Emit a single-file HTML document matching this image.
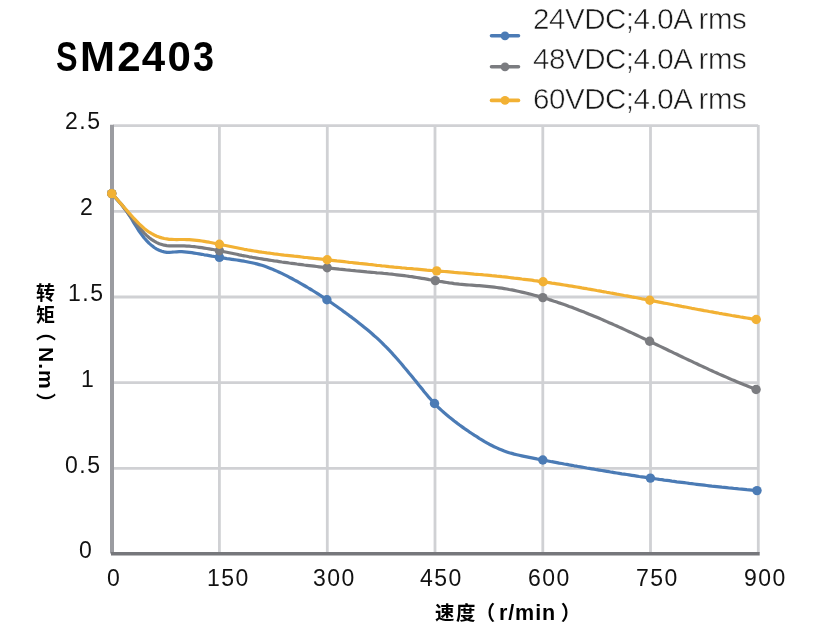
<!DOCTYPE html>
<html><head><meta charset="utf-8"><style>
html,body{margin:0;padding:0;background:#fff;}
body{width:831px;height:640px;position:relative;overflow:hidden;font-family:"Liberation Sans","Noto Sans CJK SC",sans-serif;}
.t{position:absolute;white-space:nowrap;line-height:1;color:#111;will-change:transform;}
.tt{top:36px;font-size:42px;font-weight:bold;font-family:"Liberation Sans",sans-serif;color:#000;letter-spacing:0.6px;}
.lg{font-size:29.5px;color:#1a1a1a;letter-spacing:-0.45px;-webkit-text-stroke:0.55px #fff;paint-order:normal;}
.yl{font-size:23px;letter-spacing:1.5px;}
.xl{font-size:23px;letter-spacing:1.5px;}
.cj{font-size:20px;font-weight:bold;font-family:"Liberation Sans","Noto Sans CJK SC",sans-serif;color:#000;}
.vt{writing-mode:vertical-rl;font-size:20px;font-weight:bold;font-family:"Liberation Sans",sans-serif;color:#000;}
.lt{font-size:20px;font-weight:bold;font-family:"Liberation Sans",sans-serif;color:#000;}
svg{position:absolute;left:0;top:0;}
</style></head><body>
<svg width="831" height="640" viewBox="0 0 831 640">
<g stroke="#d0d1d4" stroke-width="2.8" fill="none"><line x1="113" y1="125.6" x2="758.2" y2="125.6"/><line x1="113" y1="211.3" x2="758.2" y2="211.3"/><line x1="113" y1="297.0" x2="758.2" y2="297.0"/><line x1="113" y1="382.6" x2="758.2" y2="382.6"/><line x1="113" y1="468.3" x2="758.2" y2="468.3"/><line x1="219.4" y1="125.1" x2="219.4" y2="553"/><line x1="327.3" y1="125.1" x2="327.3" y2="553"/><line x1="435.0" y1="125.1" x2="435.0" y2="553"/><line x1="542.8" y1="125.1" x2="542.8" y2="553"/><line x1="650.5" y1="125.1" x2="650.5" y2="553"/><line x1="758.3" y1="125.1" x2="758.3" y2="553"/></g>
<line x1="112" y1="124.8" x2="112" y2="553.5" stroke="#9b9ca1" stroke-width="4"/>
<line x1="111" y1="553.8" x2="759.7" y2="553.8" stroke="#76777b" stroke-width="3.6"/>
<g fill="none" stroke-width="3.2" stroke-linejoin="round" stroke-linecap="round">
<path d="M111.8,193.6 L114.2,196.7 L116.8,199.4 L119.2,202.0 L121.8,204.7 L124.2,207.8 L126.8,211.3 L129.2,215.1 L131.8,219.2 L134.2,223.4 L136.8,227.5 L139.2,231.3 L141.8,234.8 L144.2,238.0 L146.8,240.8 L149.2,243.4 L151.8,245.6 L154.2,247.5 L156.8,249.1 L159.2,250.3 L161.8,251.3 L164.2,251.9 L166.8,252.3 L169.2,252.3 L171.8,252.2 L174.2,252.0 L176.8,251.8 L179.2,251.7 L181.8,251.7 L184.2,251.9 L186.8,252.1 L189.2,252.4 L191.8,252.7 L194.2,253.1 L196.8,253.5 L199.2,253.9 L201.8,254.3 L204.2,254.8 L206.8,255.2 L209.2,255.6 L211.8,256.1 L214.2,256.5 L216.8,256.9 L219.2,257.4 L221.8,257.8 L224.2,258.2 L226.8,258.6 L229.2,258.9 L231.8,259.3 L234.2,259.7 L236.8,260.0 L239.2,260.4 L241.8,260.8 L244.2,261.2 L246.8,261.7 L249.2,262.2 L251.8,262.7 L254.2,263.3 L256.8,263.9 L259.2,264.6 L261.8,265.3 L264.2,266.1 L266.8,267.0 L269.2,267.9 L271.8,268.9 L274.2,270.0 L276.8,271.1 L279.2,272.2 L281.8,273.4 L284.2,274.6 L286.8,275.9 L289.2,277.2 L291.8,278.5 L294.2,279.9 L296.8,281.2 L299.2,282.6 L301.8,284.1 L304.2,285.5 L306.8,287.0 L309.2,288.5 L311.8,290.0 L314.2,291.5 L316.8,293.1 L319.2,294.7 L321.8,296.3 L324.2,297.9 L326.8,299.6 L329.2,301.3 L331.8,303.0 L334.2,304.7 L336.8,306.5 L339.2,308.2 L341.8,310.0 L344.2,311.9 L346.8,313.7 L349.2,315.6 L351.8,317.4 L354.2,319.3 L356.8,321.3 L359.2,323.2 L361.8,325.2 L364.2,327.2 L366.8,329.3 L369.2,331.3 L371.8,333.5 L374.2,335.7 L376.8,337.9 L379.2,340.2 L381.8,342.6 L384.2,345.1 L386.8,347.6 L389.2,350.2 L391.8,352.9 L394.2,355.7 L396.8,358.5 L399.2,361.3 L401.8,364.2 L404.2,367.2 L406.8,370.2 L409.2,373.2 L411.8,376.3 L414.2,379.3 L416.8,382.4 L419.2,385.5 L421.8,388.6 L424.2,391.7 L426.8,394.7 L429.2,397.7 L431.8,400.5 L434.2,403.2 L436.8,405.8 L439.2,408.3 L441.8,410.6 L444.2,412.8 L446.8,415.0 L449.2,417.0 L451.8,419.0 L454.2,421.0 L456.8,422.9 L459.2,424.8 L461.8,426.6 L464.2,428.4 L466.8,430.1 L469.2,431.8 L471.8,433.5 L474.2,435.1 L476.8,436.7 L479.2,438.3 L481.8,439.8 L484.2,441.3 L486.8,442.8 L489.2,444.2 L491.8,445.5 L494.2,446.7 L496.8,447.9 L499.2,449.0 L501.8,450.0 L504.2,451.0 L506.8,451.9 L509.2,452.7 L511.8,453.4 L514.2,454.1 L516.8,454.7 L519.2,455.3 L521.8,455.9 L524.2,456.4 L526.8,456.9 L529.2,457.4 L531.8,457.9 L534.2,458.4 L536.8,458.9 L539.2,459.3 L541.8,459.8 L544.2,460.3 L546.8,460.7 L549.2,461.2 L551.8,461.7 L554.2,462.1 L556.8,462.6 L559.2,463.1 L561.8,463.5 L564.2,464.0 L566.8,464.4 L569.2,464.9 L571.8,465.3 L574.2,465.8 L576.8,466.2 L579.2,466.7 L581.8,467.1 L584.2,467.5 L586.8,468.0 L589.2,468.4 L591.8,468.8 L594.2,469.2 L596.8,469.7 L599.2,470.1 L601.8,470.5 L604.2,470.9 L606.8,471.3 L609.2,471.7 L611.8,472.2 L614.2,472.6 L616.8,473.0 L619.2,473.4 L621.8,473.8 L624.2,474.1 L626.8,474.5 L629.2,474.9 L631.8,475.3 L634.2,475.7 L636.8,476.1 L639.2,476.5 L641.8,476.8 L644.2,477.2 L646.8,477.6 L649.2,477.9 L651.8,478.3 L654.2,478.7 L656.8,479.0 L659.2,479.4 L661.8,479.7 L664.2,480.1 L666.8,480.4 L669.2,480.7 L671.8,481.1 L674.2,481.4 L676.8,481.8 L679.2,482.1 L681.8,482.4 L684.2,482.7 L686.8,483.0 L689.2,483.4 L691.8,483.7 L694.2,484.0 L696.8,484.3 L699.2,484.6 L701.8,484.9 L704.2,485.2 L706.8,485.5 L709.2,485.8 L711.8,486.1 L714.2,486.3 L716.8,486.6 L719.2,486.9 L721.8,487.2 L724.2,487.4 L726.8,487.7 L729.2,488.0 L731.8,488.2 L734.2,488.5 L736.8,488.7 L739.2,489.0 L741.8,489.2 L744.2,489.4 L746.8,489.7 L749.2,489.9 L751.8,490.1 L754.2,490.4 L756.8,490.6 L757.0,490.6" stroke="#4b7bb5"/>
<circle cx="111.75" cy="193.60" r="4.7" fill="#4b7bb5"/><circle cx="219.40" cy="257.40" r="4.7" fill="#4b7bb5"/><circle cx="326.90" cy="299.70" r="4.7" fill="#4b7bb5"/><circle cx="434.50" cy="403.50" r="4.7" fill="#4b7bb5"/><circle cx="542.80" cy="460.00" r="4.7" fill="#4b7bb5"/><circle cx="650.40" cy="478.10" r="4.7" fill="#4b7bb5"/><circle cx="757.00" cy="490.60" r="4.7" fill="#4b7bb5"/>
<path d="M111.8,193.6 L114.2,196.1 L116.8,198.9 L119.2,201.9 L121.8,205.0 L124.2,208.2 L126.8,211.5 L129.2,214.8 L131.8,218.1 L134.2,221.3 L136.8,224.5 L139.2,227.5 L141.8,230.4 L144.2,233.1 L146.8,235.6 L149.2,237.7 L151.8,239.6 L154.2,241.2 L156.8,242.6 L159.2,243.7 L161.8,244.5 L164.2,245.2 L166.8,245.6 L169.2,245.8 L171.8,245.9 L174.2,245.8 L176.8,245.8 L179.2,245.8 L181.8,245.8 L184.2,245.9 L186.8,246.1 L189.2,246.2 L191.8,246.5 L194.2,246.7 L196.8,247.0 L199.2,247.3 L201.8,247.7 L204.2,248.1 L206.8,248.5 L209.2,248.9 L211.8,249.3 L214.2,249.8 L216.8,250.3 L219.2,250.8 L221.8,251.3 L224.2,251.8 L226.8,252.3 L229.2,252.8 L231.8,253.3 L234.2,253.8 L236.8,254.3 L239.2,254.9 L241.8,255.4 L244.2,255.8 L246.8,256.3 L249.2,256.8 L251.8,257.2 L254.2,257.7 L256.8,258.1 L259.2,258.5 L261.8,258.9 L264.2,259.3 L266.8,259.7 L269.2,260.1 L271.8,260.5 L274.2,260.9 L276.8,261.2 L279.2,261.6 L281.8,262.0 L284.2,262.3 L286.8,262.6 L289.2,263.0 L291.8,263.3 L294.2,263.6 L296.8,264.0 L299.2,264.3 L301.8,264.6 L304.2,265.0 L306.8,265.3 L309.2,265.6 L311.8,265.9 L314.2,266.2 L316.8,266.5 L319.2,266.8 L321.8,267.1 L324.2,267.4 L326.8,267.7 L329.2,268.0 L331.8,268.3 L334.2,268.6 L336.8,268.9 L339.2,269.2 L341.8,269.4 L344.2,269.7 L346.8,270.0 L349.2,270.2 L351.8,270.5 L354.2,270.7 L356.8,271.0 L359.2,271.2 L361.8,271.4 L364.2,271.6 L366.8,271.9 L369.2,272.1 L371.8,272.3 L374.2,272.5 L376.8,272.8 L379.2,273.0 L381.8,273.2 L384.2,273.5 L386.8,273.7 L389.2,274.0 L391.8,274.2 L394.2,274.5 L396.8,274.8 L399.2,275.1 L401.8,275.4 L404.2,275.7 L406.8,276.0 L409.2,276.4 L411.8,276.7 L414.2,277.1 L416.8,277.5 L419.2,277.9 L421.8,278.3 L424.2,278.7 L426.8,279.1 L429.2,279.6 L431.8,280.0 L434.2,280.4 L436.8,280.8 L439.2,281.3 L441.8,281.7 L444.2,282.1 L446.8,282.5 L449.2,282.9 L451.8,283.2 L454.2,283.6 L456.8,283.9 L459.2,284.2 L461.8,284.4 L464.2,284.6 L466.8,284.8 L469.2,285.0 L471.8,285.2 L474.2,285.4 L476.8,285.6 L479.2,285.7 L481.8,285.9 L484.2,286.1 L486.8,286.3 L489.2,286.6 L491.8,286.9 L494.2,287.2 L496.8,287.5 L499.2,287.8 L501.8,288.2 L504.2,288.6 L506.8,289.0 L509.2,289.5 L511.8,289.9 L514.2,290.4 L516.8,291.0 L519.2,291.5 L521.8,292.1 L524.2,292.6 L526.8,293.2 L529.2,293.9 L531.8,294.5 L534.2,295.2 L536.8,295.9 L539.2,296.6 L541.8,297.3 L544.2,298.0 L546.8,298.8 L549.2,299.6 L551.8,300.4 L554.2,301.2 L556.8,302.0 L559.2,302.9 L561.8,303.7 L564.2,304.6 L566.8,305.5 L569.2,306.4 L571.8,307.3 L574.2,308.3 L576.8,309.2 L579.2,310.2 L581.8,311.2 L584.2,312.1 L586.8,313.2 L589.2,314.2 L591.8,315.2 L594.2,316.2 L596.8,317.3 L599.2,318.3 L601.8,319.4 L604.2,320.5 L606.8,321.6 L609.2,322.7 L611.8,323.8 L614.2,324.9 L616.8,326.0 L619.2,327.1 L621.8,328.3 L624.2,329.4 L626.8,330.6 L629.2,331.7 L631.8,332.9 L634.2,334.0 L636.8,335.2 L639.2,336.4 L641.8,337.6 L644.2,338.8 L646.8,339.9 L649.2,341.1 L651.8,342.3 L654.2,343.5 L656.8,344.7 L659.2,345.9 L661.8,347.1 L664.2,348.3 L666.8,349.5 L669.2,350.7 L671.8,351.9 L674.2,353.1 L676.8,354.3 L679.2,355.5 L681.8,356.7 L684.2,357.9 L686.8,359.1 L689.2,360.3 L691.8,361.4 L694.2,362.6 L696.8,363.8 L699.2,365.0 L701.8,366.1 L704.2,367.3 L706.8,368.4 L709.2,369.6 L711.8,370.7 L714.2,371.9 L716.8,373.0 L719.2,374.1 L721.8,375.2 L724.2,376.3 L726.8,377.4 L729.2,378.5 L731.8,379.6 L734.2,380.6 L736.8,381.7 L739.2,382.7 L741.8,383.8 L744.2,384.8 L746.8,385.8 L749.2,386.8 L751.8,387.8 L754.2,388.8 L756.1,389.5" stroke="#7b7c80"/>
<circle cx="111.75" cy="193.60" r="4.7" fill="#7b7c80"/><circle cx="219.40" cy="250.80" r="4.7" fill="#7b7c80"/><circle cx="327.20" cy="267.80" r="4.7" fill="#7b7c80"/><circle cx="435.30" cy="280.60" r="4.7" fill="#7b7c80"/><circle cx="542.80" cy="297.60" r="4.7" fill="#7b7c80"/><circle cx="649.60" cy="341.30" r="4.7" fill="#7b7c80"/><circle cx="756.10" cy="389.50" r="4.7" fill="#7b7c80"/>
<path d="M111.8,193.6 L114.2,196.2 L116.8,199.0 L119.2,201.8 L121.8,204.6 L124.2,207.5 L126.8,210.4 L129.2,213.2 L131.8,216.0 L134.2,218.7 L136.8,221.4 L139.2,223.9 L141.8,226.2 L144.2,228.4 L146.8,230.4 L149.2,232.2 L151.8,233.7 L154.2,235.0 L156.8,236.2 L159.2,237.1 L161.8,237.9 L164.2,238.5 L166.8,238.9 L169.2,239.3 L171.8,239.4 L174.2,239.5 L176.8,239.6 L179.2,239.5 L181.8,239.5 L184.2,239.5 L186.8,239.6 L189.2,239.7 L191.8,239.9 L194.2,240.1 L196.8,240.3 L199.2,240.6 L201.8,241.0 L204.2,241.4 L206.8,241.8 L209.2,242.2 L211.8,242.7 L214.2,243.2 L216.8,243.7 L219.2,244.2 L221.8,244.7 L224.2,245.2 L226.8,245.7 L229.2,246.2 L231.8,246.8 L234.2,247.3 L236.8,247.8 L239.2,248.3 L241.8,248.8 L244.2,249.3 L246.8,249.7 L249.2,250.2 L251.8,250.6 L254.2,251.0 L256.8,251.4 L259.2,251.8 L261.8,252.2 L264.2,252.5 L266.8,252.9 L269.2,253.2 L271.8,253.5 L274.2,253.9 L276.8,254.2 L279.2,254.5 L281.8,254.8 L284.2,255.1 L286.8,255.3 L289.2,255.6 L291.8,255.9 L294.2,256.2 L296.8,256.4 L299.2,256.7 L301.8,257.0 L304.2,257.3 L306.8,257.5 L309.2,257.8 L311.8,258.1 L314.2,258.4 L316.8,258.6 L319.2,258.9 L321.8,259.2 L324.2,259.5 L326.8,259.8 L329.2,260.0 L331.8,260.3 L334.2,260.6 L336.8,260.9 L339.2,261.1 L341.8,261.4 L344.2,261.7 L346.8,262.0 L349.2,262.3 L351.8,262.5 L354.2,262.8 L356.8,263.1 L359.2,263.4 L361.8,263.6 L364.2,263.9 L366.8,264.2 L369.2,264.5 L371.8,264.7 L374.2,265.0 L376.8,265.3 L379.2,265.5 L381.8,265.8 L384.2,266.0 L386.8,266.3 L389.2,266.6 L391.8,266.8 L394.2,267.1 L396.8,267.3 L399.2,267.5 L401.8,267.8 L404.2,268.0 L406.8,268.3 L409.2,268.5 L411.8,268.7 L414.2,269.0 L416.8,269.2 L419.2,269.4 L421.8,269.6 L424.2,269.8 L426.8,270.1 L429.2,270.3 L431.8,270.5 L434.2,270.7 L436.8,270.9 L439.2,271.1 L441.8,271.3 L444.2,271.5 L446.8,271.7 L449.2,271.9 L451.8,272.1 L454.2,272.4 L456.8,272.6 L459.2,272.8 L461.8,273.0 L464.2,273.2 L466.8,273.4 L469.2,273.6 L471.8,273.8 L474.2,274.1 L476.8,274.3 L479.2,274.5 L481.8,274.7 L484.2,275.0 L486.8,275.2 L489.2,275.4 L491.8,275.7 L494.2,275.9 L496.8,276.2 L499.2,276.4 L501.8,276.7 L504.2,276.9 L506.8,277.2 L509.2,277.5 L511.8,277.8 L514.2,278.1 L516.8,278.3 L519.2,278.6 L521.8,279.0 L524.2,279.3 L526.8,279.6 L529.2,279.9 L531.8,280.2 L534.2,280.6 L536.8,280.9 L539.2,281.3 L541.8,281.6 L544.2,282.0 L546.8,282.3 L549.2,282.7 L551.8,283.1 L554.2,283.4 L556.8,283.8 L559.2,284.2 L561.8,284.6 L564.2,285.0 L566.8,285.4 L569.2,285.8 L571.8,286.2 L574.2,286.6 L576.8,287.0 L579.2,287.4 L581.8,287.9 L584.2,288.3 L586.8,288.7 L589.2,289.2 L591.8,289.6 L594.2,290.0 L596.8,290.5 L599.2,290.9 L601.8,291.4 L604.2,291.8 L606.8,292.3 L609.2,292.7 L611.8,293.2 L614.2,293.6 L616.8,294.1 L619.2,294.5 L621.8,295.0 L624.2,295.5 L626.8,295.9 L629.2,296.4 L631.8,296.9 L634.2,297.3 L636.8,297.8 L639.2,298.3 L641.8,298.8 L644.2,299.2 L646.8,299.7 L649.2,300.2 L651.8,300.7 L654.2,301.1 L656.8,301.6 L659.2,302.1 L661.8,302.6 L664.2,303.1 L666.8,303.5 L669.2,304.0 L671.8,304.5 L674.2,305.0 L676.8,305.4 L679.2,305.9 L681.8,306.4 L684.2,306.8 L686.8,307.3 L689.2,307.8 L691.8,308.3 L694.2,308.7 L696.8,309.2 L699.2,309.7 L701.8,310.1 L704.2,310.6 L706.8,311.0 L709.2,311.5 L711.8,311.9 L714.2,312.4 L716.8,312.8 L719.2,313.3 L721.8,313.7 L724.2,314.2 L726.8,314.6 L729.2,315.0 L731.8,315.5 L734.2,315.9 L736.8,316.3 L739.2,316.7 L741.8,317.2 L744.2,317.6 L746.8,318.0 L749.2,318.4 L751.8,318.8 L754.2,319.2 L756.2,319.5" stroke="#f2b134"/>
<circle cx="111.75" cy="193.60" r="4.7" fill="#f2b134"/><circle cx="219.40" cy="244.20" r="4.7" fill="#f2b134"/><circle cx="327.20" cy="259.80" r="4.7" fill="#f2b134"/><circle cx="436.70" cy="270.90" r="4.7" fill="#f2b134"/><circle cx="543.10" cy="281.80" r="4.7" fill="#f2b134"/><circle cx="649.80" cy="300.30" r="4.7" fill="#f2b134"/><circle cx="756.20" cy="319.50" r="4.7" fill="#f2b134"/>
</g>
<g stroke-width="3.6" stroke-linecap="round">
<line x1="491.5" y1="35.8" x2="518.5" y2="35.8" stroke="#4b7bb5"/><circle cx="505" cy="35.8" r="4.4" fill="#4b7bb5"/>
<line x1="491.5" y1="66.8" x2="518.5" y2="66.8" stroke="#7b7c80"/><circle cx="505" cy="66.8" r="4.4" fill="#7b7c80"/>
<line x1="491.5" y1="100.4" x2="518.5" y2="100.4" stroke="#f2b134"/><circle cx="505" cy="100.4" r="4.4" fill="#f2b134"/>
</g>
</svg>
<div class="t tt" style="left:56px;"><span style="display:inline-block;width:24px;transform:scaleX(0.77);transform-origin:0 0;">S</span><span style="display:inline-block;width:37.3px;">M</span><span style="display:inline-block;width:24.4px;">2</span><span style="display:inline-block;width:25.8px;">4</span><span style="display:inline-block;width:25.7px;">0</span><span style="display:inline-block;transform:scaleX(0.9);transform-origin:0 0;">3</span></div>
<div class="t lg" style="left:532.8px;top:4px;">24VDC;4.0A rms</div>
<div class="t lg" style="left:532.8px;top:44px;">48VDC;4.0A rms</div>
<div class="t lg" style="left:532.8px;top:84px;">60VDC;4.0A rms</div>
<div class="t yl" style="left:65px;top:110px;">2.5</div>
<div class="t yl" style="left:80px;top:195.7px;">2</div>
<div class="t yl" style="left:68.3px;top:282px;">1.5</div>
<div class="t yl" style="left:80.5px;top:367.5px;">1</div>
<div class="t yl" style="left:65px;top:453.5px;">0.5</div>
<div class="t yl" style="left:79px;top:539px;">0</div>
<div class="t xl" style="left:107px;top:567px;">0</div>
<div class="t xl" style="left:207px;top:567px;">150</div>
<div class="t xl" style="left:313px;top:567px;">300</div>
<div class="t xl" style="left:420px;top:567px;">450</div>
<div class="t xl" style="left:528px;top:567px;">600</div>
<div class="t xl" style="left:636px;top:567px;">750</div>
<div class="t xl" style="left:744px;top:567px;">900</div>
<div class="t vt" style="left:37px;top:282.9px;"><span class="cj" style="display:inline-block;height:22px;font-size:19px;position:relative;left:-4px;">转</span><span class="cj" style="display:inline-block;height:16.4px;font-size:19px;position:relative;left:-4px;">矩</span><span class="cj" style="display:inline-block;height:25.9px;position:relative;left:-2.5px;">（</span><span style="display:inline-block;height:45.9px;font-size:21px;letter-spacing:1px;position:relative;left:-1px;">N.m</span><span class="cj" style="position:relative;left:-2.5px;">）</span></div>
<div class="t" style="left:435.3px;top:602.6px;"><span class="cj" style="display:inline-block;width:40.2px;font-size:19.4px;letter-spacing:1.6px;">速度</span><span class="cj" style="display:inline-block;width:23.8px;">（</span><span class="lt" style="display:inline-block;width:61.7px;font-size:21.5px;letter-spacing:0.9px;">r/min</span><span class="cj">）</span></div>
</body></html>
